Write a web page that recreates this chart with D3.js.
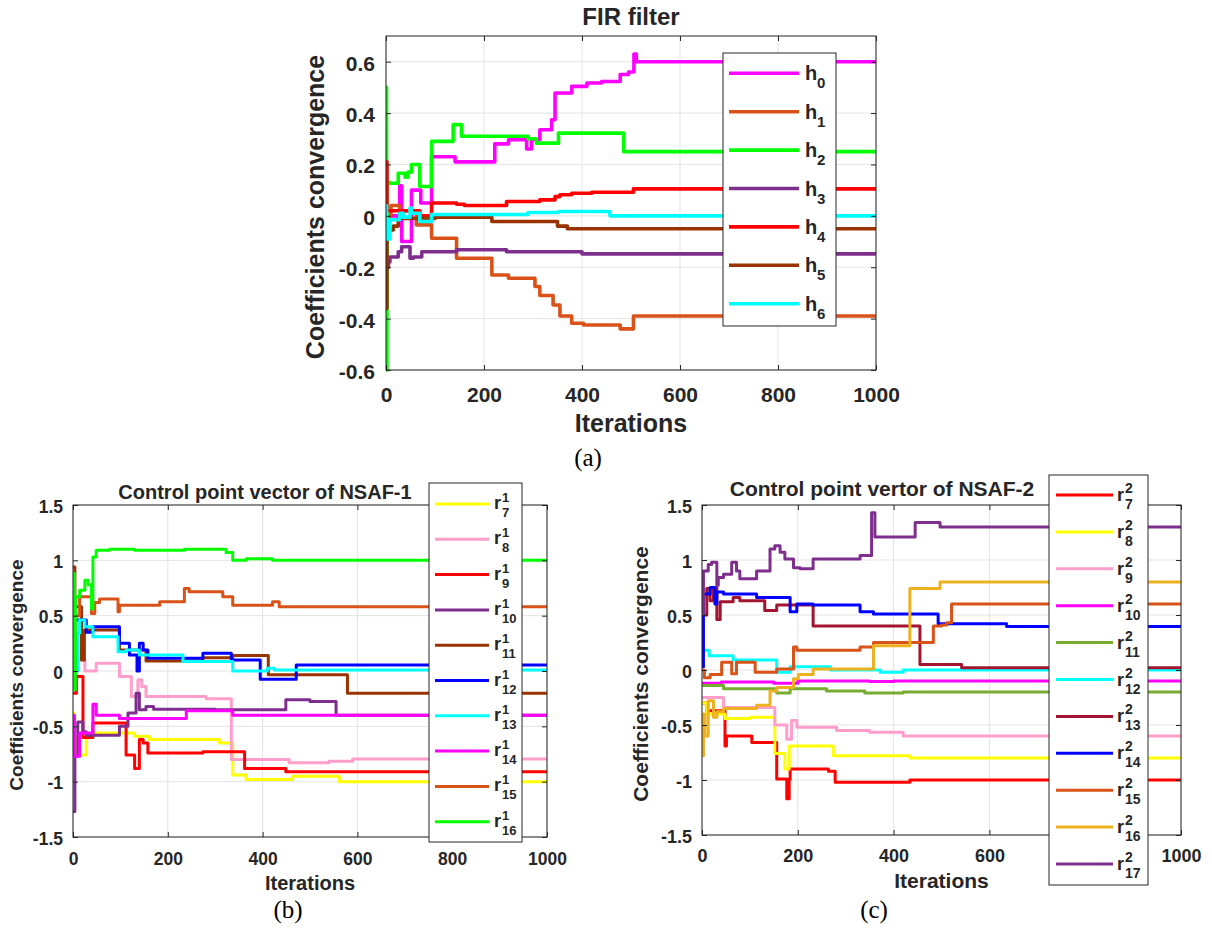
<!DOCTYPE html>
<html>
<head>
<meta charset="utf-8">
<script src="https://cdn.jsdelivr.net/npm/d3@7"></script>
<style>
  body { margin: 0; background: #fff; }
  svg text { font-family: "Liberation Sans", Arial, Helvetica, sans-serif; fill: #262626; }
  .cap { font-family: "Liberation Serif", "Times New Roman", serif !important; fill: #000 !important; }
</style>
</head>
<body>
<svg id="fig" width="1212" height="933"></svg>
<script>
// ---------- shared axis values ----------
const iterDomain = [0, 1000];
const iterTicks = [0, 200, 400, 600, 800, 1000];
const coefTicksA = [-0.6, -0.4, -0.2, 0, 0.2, 0.4, 0.6];
const coefDomainA = [-0.6, 0.7];
const coefTicksBC = [-1.5, -1, -0.5, 0, 0.5, 1, 1.5];
const coefDomainBC = [-1.5, 1.5];

// ---------- (a) FIR filter coefficients: [iteration, value] step points ----------
const h0 = [[0,0.0],[28,0.117],[32,-0.10],[52,0.10],[71,0.05],[93,0.23],[141,0.21],[222,0.28],[250,0.296],[287,0.26],[297,0.296],[314,0.335],[338,0.374],[345,0.478],[379,0.504],[410,0.517],[440,0.523],[478,0.55],[495,0.56],[506,0.63],[511,0.60]];
const h1 = [[0,0.0],[10,0.04],[28,0.02],[62,-0.035],[93,-0.087],[144,-0.165],[216,-0.23],[250,-0.243],[304,-0.275],[314,-0.31],[341,-0.347],[355,-0.39],[379,-0.418],[403,-0.425],[478,-0.44],[505,-0.39]];
const h2 = [[0,0.5],[1,-0.6],[2,0.13],[8,0.127],[25,0.166],[39,0.15],[45,0.17],[52,0.2],[69,0.114],[93,0.29],[137,0.355],[154,0.31],[290,0.30],[307,0.283],[352,0.322],[485,0.25]];
const h3 = [[0,-0.2],[5,-0.18],[8,-0.16],[25,-0.14],[32,-0.12],[49,-0.165],[56,-0.16],[73,-0.14],[144,-0.132],[246,-0.14],[400,-0.148]];
const h4 = [[0,0.21],[2,0.02],[69,0.0],[93,0.05],[144,0.045],[160,0.04],[246,0.056],[314,0.062],[345,0.075],[355,0.082],[379,0.088],[420,0.092],[505,0.105]];
const h5 = [[0,-0.36],[2,-0.055],[15,-0.04],[25,-0.01],[100,-0.005],[216,-0.022],[350,-0.04],[370,-0.05]];
const h6 = [[0,0.04],[1,-0.09],[8,-0.015],[28,0.01],[35,-0.005],[49,0.03],[52,0.01],[69,-0.022],[93,0.005],[290,0.013],[352,0.017],[457,0.0]];
const seriesA = [h0, h1, h2, h3, h4, h5, h6];
const labelsA = ["0", "1", "2", "3", "4", "5", "6"];
const colorsA = ["#FF00FF", "#D95319", "#00FF00", "#7E2F8E", "#FF0000", "#993300", "#00FFFF"];

// ---------- (b) control points of NSAF-1 ----------
const r1_7  = [[0,-0.38],[3,-0.6],[8,-0.76],[28,-0.58],[42,-0.56],[130,-0.59],[161,-0.62],[309,-0.65],[337,-0.94],[365,-0.98],[414,-0.98],[463,-0.95],[562,-1.0]];
const r1_8  = [[0,0.3],[10,0.1],[25,0.0],[49,0.07],[98,-0.05],[123,-0.23],[137,-0.08],[145,-0.14],[154,-0.23],[281,-0.25],[334,-0.8],[456,-0.83],[540,-0.815],[590,-0.795]];
const r1_9  = [[0,-0.2],[7,-0.05],[21,-0.6],[42,-0.47],[112,-0.76],[130,-0.88],[140,-0.62],[148,-0.65],[158,-0.74],[274,-0.73],[362,-0.88],[449,-0.91]];
const r1_10 = [[0,-1.27],[4,-0.77],[10,-0.46],[21,-0.55],[28,-0.58],[98,-0.5],[116,-0.38],[133,-0.2],[140,-0.35],[154,-0.32],[170,-0.345],[300,-0.35],[449,-0.26],[500,-0.275],[555,-0.4]];
const r1_11 = [[0,0.94],[4,0.58],[18,0.1],[24,0.37],[98,0.19],[154,0.09],[274,0.12],[337,0.14],[412,-0.035],[579,-0.2]];
const r1_12 = [[0,0.0],[3,0.46],[28,0.35],[42,0.4],[98,0.25],[119,0.145],[135,0.0],[140,0.25],[148,0.19],[158,0.115],[274,0.16],[334,0.1],[395,-0.075],[471,0.054]];
const r1_13 = [[0,0.0],[10,0.34],[14,0.46],[25,0.4],[42,0.31],[95,0.175],[112,0.19],[140,0.145],[232,0.085],[337,0.0],[410,0.025],[425,0.01]];
const r1_14 = [[0,-0.4],[3,-0.77],[14,-0.56],[42,-0.3],[49,-0.4],[98,-0.43],[239,-0.36],[337,-0.4]];
const r1_15 = [[0,0.0],[4,0.5],[14,0.67],[39,0.52],[46,0.62],[56,0.65],[95,0.535],[98,0.595],[183,0.625],[235,0.745],[245,0.715],[316,0.67],[337,0.595],[421,0.625],[435,0.58]];
const r1_16 = [[0,0.88],[3,-0.17],[5,0.67],[14,0.73],[25,0.82],[32,0.78],[39,0.56],[42,1.03],[49,1.09],[77,1.1],[130,1.09],[235,1.1],[323,1.07],[337,1.0],[365,1.015],[421,1.0]];
const seriesB = [r1_7, r1_8, r1_9, r1_10, r1_11, r1_12, r1_13, r1_14, r1_15, r1_16];
const labelsB = ["7", "8", "9", "10", "11", "12", "13", "14", "15", "16"];
const colorsB = ["#FFFF00", "#FF9ECB", "#FF0000", "#7E2F8E", "#993300", "#0000FF", "#00FFFF", "#FF00FF", "#D95319", "#00FF00"];

// ---------- (c) control points of NSAF-2 ----------
const r2_7  = [[0,-0.3],[10,-0.37],[48,-0.69],[51,-0.6],[104,-0.66],[156,-0.99],[177,-1.17],[182,-0.99],[184,-0.9],[264,-0.92],[278,-1.02],[434,-1.0]];
const r2_8  = [[0,-0.3],[10,-0.4],[48,-0.44],[100,-0.43],[152,-0.76],[173,-0.9],[182,-0.69],[274,-0.78],[434,-0.8]];
const r2_9  = [[0,-0.25],[45,-0.34],[152,-0.5],[177,-0.63],[187,-0.46],[198,-0.52],[281,-0.55],[350,-0.565],[420,-0.6]];
const r2_10 = [[0,-0.12],[40,-0.11],[150,-0.12],[200,-0.1],[350,-0.105],[400,-0.1]];
const r2_11 = [[0,-0.14],[45,-0.17],[156,-0.21],[184,-0.17],[260,-0.19],[340,-0.21],[420,-0.2]];
const r2_12 = [[0,0.18],[15,0.13],[65,0.09],[156,-0.02],[184,0.03],[268,0.0],[372,-0.02],[420,0.0]];
const r2_13 = [[0,0.5],[10,0.74],[17,0.63],[24,0.75],[31,0.46],[38,0.62],[65,0.66],[79,0.63],[131,0.54],[156,0.59],[232,0.4],[455,0.05],[542,0.02]];
const r2_14 = [[0,0.03],[3,0.69],[17,0.75],[27,0.6],[31,0.71],[45,0.69],[114,0.66],[184,0.53],[198,0.6],[232,0.59],[330,0.53],[358,0.51],[493,0.42],[636,0.395]];
const r2_15 = [[0,0.0],[5,-0.07],[17,-0.04],[41,0.07],[62,-0.035],[72,0.07],[111,-0.02],[156,0.01],[191,0.21],[198,0.18],[330,0.21],[358,0.25],[483,0.4],[500,0.41],[511,0.43],[521,0.6]];
const r2_16 = [[0,-0.78],[3,-0.4],[6,-0.6],[13,-0.28],[24,-0.43],[31,-0.38],[45,-0.35],[114,-0.32],[142,-0.19],[156,-0.16],[191,-0.08],[201,-0.04],[232,0.01],[358,0.22],[434,0.74],[497,0.8]];
const r2_17 = [[0,0.51],[3,0.9],[13,0.96],[20,0.98],[31,0.77],[34,0.84],[45,0.87],[62,0.98],[72,0.9],[79,0.83],[114,0.9],[142,1.1],[152,1.13],[163,1.07],[173,1.01],[191,0.93],[205,0.92],[232,1.01],[330,1.04],[354,1.43],[361,1.21],[445,1.34],[497,1.3]];
const seriesC = [r2_7, r2_8, r2_9, r2_10, r2_11, r2_12, r2_13, r2_14, r2_15, r2_16, r2_17];
const labelsC = ["7", "8", "9", "10", "11", "12", "13", "14", "15", "16", "17"];
const colorsC = ["#FF0000", "#FFFF00", "#FF9ECB", "#FF00FF", "#77AC30", "#00FFFF", "#A2142F", "#0000FF", "#D95319", "#EDB120", "#7E2F8E"];

// ---------- drawing ----------
const svg = d3.select("#fig");
const AX = "#262626";
const fmt = d => String(Math.round(d * 10) / 10);
let clipCount = 0;

function drawPanel(o) {
  const g = svg.append("g");
  const x = d3.scaleLinear().domain(iterDomain).range([o.left, o.left + o.width]);
  const y = d3.scaleLinear().domain(o.yDomain).range([o.top + o.height, o.top]);

  // grid
  g.selectAll(null).data(iterTicks).join("line")
    .attr("x1", d => x(d)).attr("x2", d => x(d))
    .attr("y1", o.top).attr("y2", o.top + o.height)
    .attr("stroke", "#E3E3E3").attr("stroke-width", 1);
  g.selectAll(null).data(o.yTicks).join("line")
    .attr("x1", o.left).attr("x2", o.left + o.width)
    .attr("y1", d => y(d)).attr("y2", d => y(d))
    .attr("stroke", "#E3E3E3").attr("stroke-width", 1);

  // series
  const id = "clip" + (clipCount++);
  svg.append("clipPath").attr("id", id).append("rect")
    .attr("x", o.left).attr("y", o.top - 2).attr("width", o.width).attr("height", o.height + 4);
  const line = d3.line().x(d => x(d[0])).y(d => y(d[1])).curve(d3.curveStepAfter);
  const lg = g.append("g").attr("clip-path", `url(#${id})`);
  o.series.forEach((s, i) => {
    const pts = s.concat([[iterDomain[1], s[s.length - 1][1]]]);
    lg.append("path").attr("d", line(pts))
      .attr("fill", "none").attr("stroke", o.colors[i])
      .attr("stroke-width", o.lw).attr("stroke-linejoin", "round");
  });

  // axes (inward ticks on all four sides)
  const tl = 5;
  const bottom = g.append("g").attr("transform", `translate(0,${o.top + o.height})`)
    .call(d3.axisBottom(x).tickValues(iterTicks).tickSize(-tl).tickFormat(d3.format("d")));
  bottom.selectAll("text").attr("y", o.xTickDy).attr("dy", 0)
    .style("font-size", o.tickFont + "px").style("font-weight", "bold").attr("fill", AX);
  const left = g.append("g").attr("transform", `translate(${o.left},0)`)
    .call(d3.axisLeft(y).tickValues(o.yTicks).tickSize(-tl).tickFormat(fmt));
  left.selectAll("text").attr("x", -o.yTickGap).attr("dy", "0.4em")
    .style("font-size", o.tickFont + "px").style("font-weight", "bold").attr("fill", AX);
  g.append("g").attr("transform", `translate(0,${o.top})`)
    .call(d3.axisTop(x).tickValues(iterTicks).tickSize(-tl).tickFormat(""));
  g.append("g").attr("transform", `translate(${o.left + o.width},0)`)
    .call(d3.axisRight(y).tickValues(o.yTicks).tickSize(-tl).tickFormat(""));
  g.selectAll(".domain").remove();
  g.selectAll(".tick line").attr("stroke", AX);
  g.append("rect").attr("x", o.left).attr("y", o.top).attr("width", o.width).attr("height", o.height)
    .attr("fill", "none").attr("stroke", AX).attr("stroke-width", 1);

  // titles and labels
  g.append("text").attr("x", o.titleX).attr("y", o.titleY).attr("text-anchor", "middle")
    .style("font-size", o.titleFont + "px").style("font-weight", "bold").attr("fill", "#000").text(o.title);
  g.append("text").attr("x", o.left + o.width / 2).attr("y", o.xLabelY).attr("text-anchor", "middle")
    .style("font-size", o.labelFont + "px").style("font-weight", "bold").text("Iterations");
  g.append("text").attr("transform", `translate(${o.yLabelX},${o.yLabelY}) rotate(-90)`).attr("text-anchor", "middle")
    .style("font-size", o.yLabelFont + "px").style("font-weight", "bold").text("Coefficients convergence");
  g.append("text").attr("class", "cap").attr("x", o.capX).attr("y", o.capY).attr("text-anchor", "middle")
    .style("font-size", "25px").text(o.caption);

  // legend
  const L = o.legend;
  g.append("rect").attr("x", L.x).attr("y", L.y).attr("width", L.w).attr("height", L.h)
    .attr("fill", "#fff").attr("stroke", AX).attr("stroke-width", 1);
  o.labels.forEach((lab, i) => {
    const cy = L.y0 + i * L.step;
    g.append("line").attr("x1", L.lx1).attr("x2", L.lx2).attr("y1", cy).attr("y2", cy)
      .attr("stroke", o.colors[i]).attr("stroke-width", o.lw);
    g.append("text").attr("x", L.tx).attr("y", cy + L.baseDy)
      .style("font-size", L.font + "px").style("font-weight", "bold").attr("fill", "#000").text(L.base);
    if (L.sup) {
      g.append("text").attr("x", L.tx + L.subDx).attr("y", cy + L.supDy)
        .style("font-size", L.subFont + "px").style("font-weight", "bold").attr("fill", "#000").text(L.sup);
    }
    g.append("text").attr("x", L.tx + L.subDx).attr("y", cy + L.subDy)
      .style("font-size", L.subFont + "px").style("font-weight", "bold").attr("fill", "#000").text(lab);
  });
}

drawPanel({
  left: 386, top: 36, width: 490, height: 334,
  yDomain: coefDomainA, yTicks: coefTicksA,
  series: seriesA, colors: colorsA, labels: labelsA, lw: 3.6,
  tickFont: 21, xTickDy: 32, yTickGap: 11,
  title: "FIR filter", titleFont: 24, titleX: 631, titleY: 25,
  labelFont: 25, xLabelY: 432, yLabelFont: 25, yLabelX: 324, yLabelY: 207,
  caption: "(a)", capX: 588, capY: 466,
  legend: { x: 723, y: 53, w: 113, h: 273, y0: 73.3, step: 38.4, lx1: 729, lx2: 799,
            tx: 805, font: 20, subFont: 15, base: "h", baseDy: 7, subDx: 12, subDy: 15 }
});

drawPanel({
  left: 73, top: 505, width: 474, height: 332,
  yDomain: coefDomainBC, yTicks: coefTicksBC,
  series: seriesB, colors: colorsB, labels: labelsB, lw: 3,
  tickFont: 17.5, xTickDy: 28, yTickGap: 10,
  title: "Control point vector of NSAF-1", titleFont: 20, titleX: 265, titleY: 499,
  labelFont: 20, xLabelY: 890, yLabelFont: 19, yLabelX: 23, yLabelY: 675,
  caption: "(b)", capX: 288, capY: 918,
  legend: { x: 429, y: 483, w: 93, h: 359, y0: 504, step: 35.3, lx1: 435, lx2: 489,
            tx: 494, font: 18, subFont: 13, base: "r", baseDy: 5, sup: "1", supDy: -2, subDx: 8, subDy: 13 }
});

drawPanel({
  left: 702, top: 505, width: 479, height: 330,
  yDomain: coefDomainBC, yTicks: coefTicksBC,
  series: seriesC, colors: colorsC, labels: labelsC, lw: 3,
  tickFont: 18, xTickDy: 27, yTickGap: 10,
  title: "Control point vertor of NSAF-2", titleFont: 21, titleX: 882, titleY: 496,
  labelFont: 21, xLabelY: 888, yLabelFont: 21, yLabelX: 648, yLabelY: 674,
  caption: "(c)", capX: 874, capY: 918,
  legend: { x: 1049, y: 475, w: 99, h: 410, y0: 495, step: 36.9, lx1: 1056, lx2: 1113,
            tx: 1117, font: 18, subFont: 14, base: "r", baseDy: 6, sup: "2", supDy: -2, subDx: 8, subDy: 14 }
});
</script>
</body>
</html>
